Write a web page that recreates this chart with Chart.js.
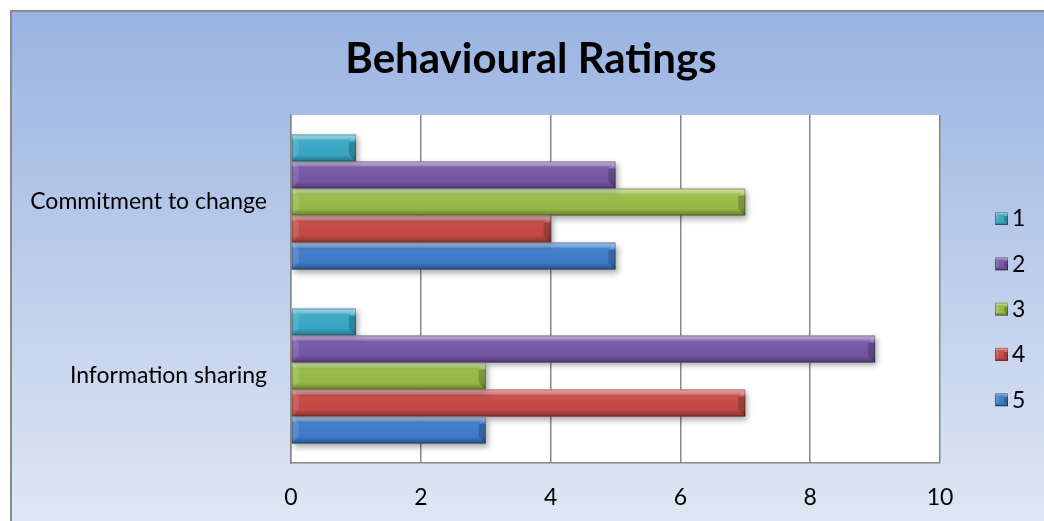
<!DOCTYPE html>
<html lang="en">
<head>
<meta charset="UTF-8">
<title>Behavioural Ratings</title>
<script src="https://cdn.jsdelivr.net/npm/chart.js"></script>
<style>
  html, body { margin: 0; padding: 0; background: #fff; overflow: hidden; }
</style>
</head>
<body>
<canvas id="myChart" width="1044" height="521"></canvas>

<script>
    // data
    const chartTitle = 'Behavioural Ratings';
    const categories = ['Commitment to change', 'Information sharing'];
    const seriesNames = ['1', '2', '3', '4', '5'];
    const rating1 = [1, 1];
    const rating2 = [5, 9];
    const rating3 = [7, 3];
    const rating4 = [4, 7];
    const rating5 = [5, 3];
    const xTicks = [0, 2, 4, 6, 8, 10];

    const seriesValues = [rating1, rating2, rating3, rating4, rating5];
    const colors = ['#3aa8c6', '#7657a6', '#99bc48', '#c64a46', '#3f7dcb'];
    const FONT = 'Lato, "Open Sans", sans-serif';
    const GRID = '#878787';

    const ctx = document.getElementById('myChart').getContext('2d');

    // sheet background, border, plot area and title
    const backdrop = {
        id: 'backdrop',
        beforeDraw(chart) {
            const c = chart.ctx, a = chart.chartArea;
            const w = chart.width, h = chart.height;
            c.save();
            c.fillStyle = '#fff';
            c.fillRect(0, 0, w, h);
            const g = c.createLinearGradient(0, 10, 0, h);
            g.addColorStop(0, '#99b3e2');
            g.addColorStop(1, '#dfe6f3');
            c.fillStyle = g;
            c.fillRect(10, 10, w - 10, h - 10);
            c.strokeStyle = '#8a8a8a';
            c.lineWidth = 2;
            c.beginPath();
            c.moveTo(11, h);
            c.lineTo(11, 11);
            c.lineTo(w, 11);
            c.stroke();
            c.fillStyle = '#fff';
            c.fillRect(a.left, a.top, a.right - a.left, a.bottom - a.top);
            c.fillStyle = '#000';
            c.font = 'bold 42px ' + FONT;
            c.textAlign = 'center';
            c.textBaseline = 'middle';
            c.fillText(chartTitle, 531, 59);
            c.restore();
        }
    };

    function bevel(c, l, t, r, b, e) {
        if (r - l < 1) return;
        const g = c.createLinearGradient(0, t, 0, b);
        g.addColorStop(0, 'rgba(255,255,255,0.55)');
        g.addColorStop(0.15, 'rgba(255,255,255,0.3)');
        g.addColorStop(0.22, 'rgba(255,255,255,0.05)');
        g.addColorStop(0.75, 'rgba(0,0,0,0.02)');
        g.addColorStop(0.85, 'rgba(0,0,0,0.15)');
        g.addColorStop(1, 'rgba(0,0,0,0.32)');
        c.fillStyle = g;
        c.fillRect(l, t, r - l, b - t);
        e = Math.min(e, (r - l) / 3);
        // right chamfer: light upper part, dark lower part
        c.fillStyle = 'rgba(255,255,255,0.15)';
        c.beginPath();
        c.moveTo(r, t); c.lineTo(r - e, t + e); c.lineTo(r, t + e);
        c.closePath();
        c.fill();
        c.fillStyle = 'rgba(0,0,0,0.2)';
        c.beginPath();
        c.moveTo(r, t + e); c.lineTo(r - e, t + e); c.lineTo(r - e, b - e); c.lineTo(r, b);
        c.closePath();
        c.fill();
        // left chamfer
        c.fillStyle = 'rgba(255,255,255,0.12)';
        c.beginPath();
        c.moveTo(l, t); c.lineTo(l + e, t + e); c.lineTo(l + e, b - e); c.lineTo(l, b);
        c.closePath();
        c.fill();
        c.strokeStyle = 'rgba(0,0,0,0.28)';
        c.lineWidth = 1;
        c.strokeRect(l + 0.5, t + 0.5, r - l - 1, b - t - 1);
    }

    // shaded 3D look for the bars and the legend
    const shading = {
        id: 'shading',
        beforeDatasetsDraw(chart) {
            const c = chart.ctx;
            c.save();
            c.shadowColor = 'rgba(0,0,0,0.35)';
            c.shadowBlur = 6;
            c.shadowOffsetX = 2;
            c.shadowOffsetY = 3;
        },
        afterDatasetsDraw(chart) {
            const c = chart.ctx;
            c.restore();
            chart.data.datasets.forEach((ds, i) => {
                chart.getDatasetMeta(i).data.forEach(bar => {
                    const p = bar.getProps(['x', 'y', 'base', 'height'], true);
                    bevel(c, Math.min(p.base, p.x), p.y - p.height / 2,
                        Math.max(p.base, p.x), p.y + p.height / 2, 7);
                });
            });
        },
        afterDraw(chart) {
            const c = chart.ctx;
            c.save();
            c.font = '23px ' + FONT;
            c.textBaseline = 'middle';
            c.textAlign = 'left';
            chart.data.datasets.forEach((ds, i) => {
                const y = 218 + i * 45.3;
                c.fillStyle = ds.backgroundColor;
                c.fillRect(995, y - 6, 13, 13);
                bevel(c, 995, y - 6, 1008, y + 7, 4);
                c.fillStyle = '#000';
                c.fillText(ds.label, 1012, y + 1);
            });
            c.restore();
        }
    };

    const datasets = seriesNames.map((name, i) => ({
        label: name,
        data: seriesValues[i],
        backgroundColor: colors[i],
        borderWidth: 0,
        categoryPercentage: 0.776,
        barPercentage: 1
    }));

    const config = {
        type: 'bar',
        data: {
            labels: categories,
            datasets: datasets
        },
        options: {
            indexAxis: 'y',
            responsive: false,
            animation: false,
            layout: {
                padding: {top: 115, right: 104, bottom: 0, left: 0}
            },
            plugins: {
                legend: {display: false},
                title: {display: false},
                tooltip: {enabled: false}
            },
            scales: {
                x: {
                    min: 0,
                    max: 10,
                    afterBuildTicks: s => { s.ticks = xTicks.map(v => ({value: v})); },
                    afterFit: s => { s.height = 58; },
                    ticks: {color: '#000', font: {family: FONT, size: 23}, padding: 21},
                    grid: {color: GRID, lineWidth: 1.5, drawTicks: false},
                    border: {color: GRID, width: 1.5}
                },
                y: {
                    afterFit: s => { s.width = 291; },
                    ticks: {color: '#000', font: {family: FONT, size: 23}, padding: 24},
                    grid: {display: false, drawTicks: false},
                    border: {color: GRID, width: 1.5}
                }
            }
        },
        plugins: [backdrop, shading]
    };

    const chart = new Chart(ctx, config);
</script>
</body>
</html>
